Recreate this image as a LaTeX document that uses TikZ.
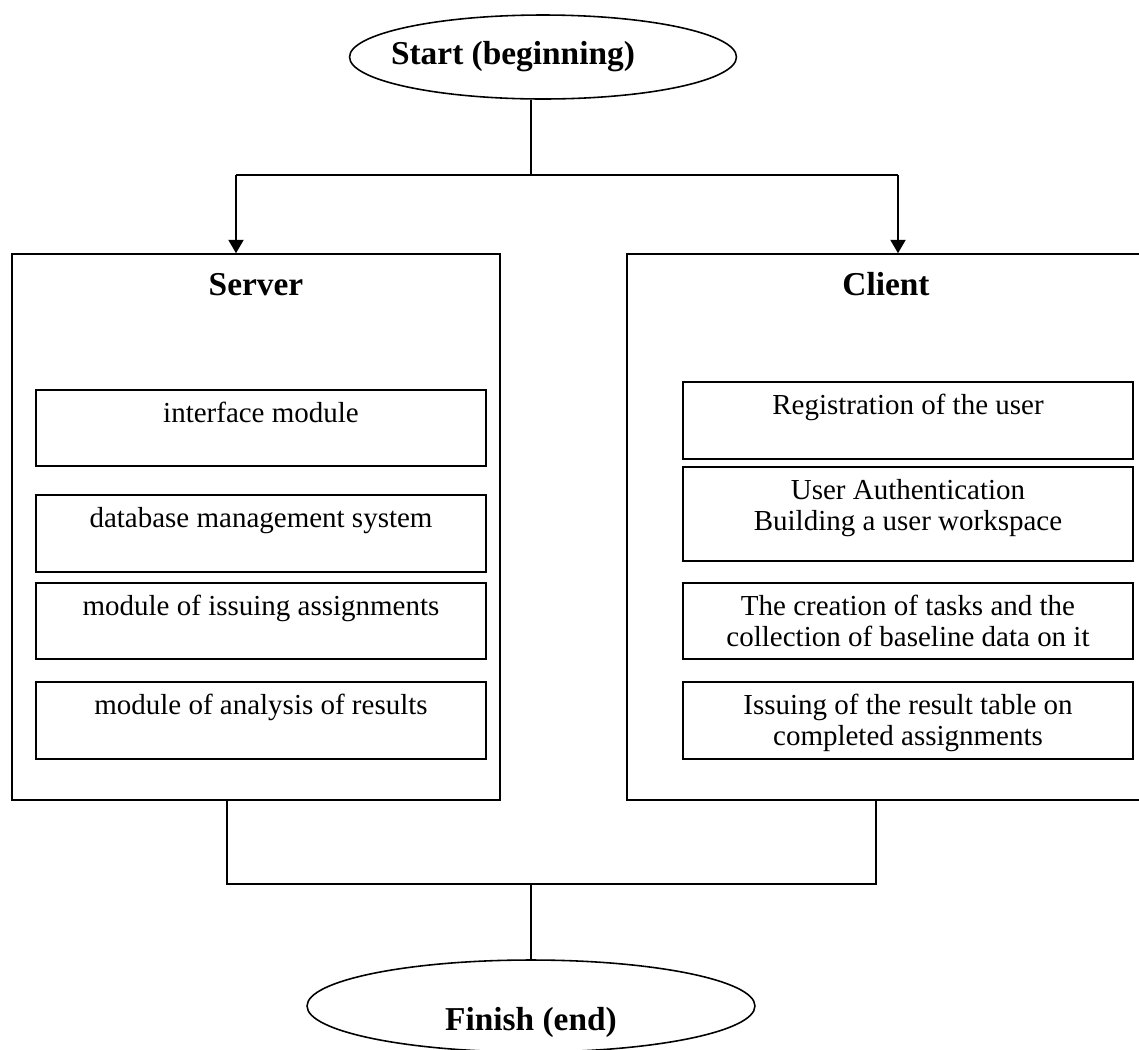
\documentclass[tikz,border=0pt]{standalone}
\usepackage{fontspec}
\setmainfont{Liberation Serif}
\usetikzlibrary{shapes.geometric,arrows.meta}

\newcommand{\boxtext}[3]{\parbox[c][#2][t]{#1}{\centering\strut #3}}

\tikzset{
	>={Triangle[length=0.27cm,width=0.3cm]},
	terminal/.style={draw, ellipse, line width=0.9pt, inner sep=0pt, font=\fontsize{19}{22}\selectfont\bfseries},
	unit/.style={draw, line width=0.9pt, inner xsep=0.2cm, inner ysep=0.28cm, font=\fontsize{19}{22}\selectfont\bfseries},
	module/.style={draw, line width=0.9pt, inner xsep=0.2cm, inner ysep=0.2cm, font=\fontsize{16.5}{18}\selectfont},
	link/.style={line width=0.8pt}
}

\begin{document}
\begin{tikzpicture}[x=0.02cm, y=-0.02cm]
	\useasboundingbox (0,0) rectangle (1139,1049);

	\node[terminal, minimum width=7.74cm, minimum height=1.68cm] (start) at (543,57) {\hspace*{-1.2cm}Start (beginning)};

	\node[unit] (server) at (256,527) {\boxtext{9.36cm}{10.36cm}{Server}};
	\node[unit] (client) at (886,527) {\boxtext{9.96cm}{10.36cm}{Client}};

	\node[module] (iface) at (261,428) {\boxtext{8.6cm}{1.12cm}{interface module}};
	\node[module] (dbms) at (261,533.5) {\boxtext{8.6cm}{1.14cm}{database management system}};
	\node[module] (issue) at (261,621) {\boxtext{8.6cm}{1.12cm}{module of issuing assignments}};
	\node[module] (analysis) at (261,720.5) {\boxtext{8.6cm}{1.14cm}{module of analysis of results}};

	\node[module] (reg) at (908,420.5) {\boxtext{8.6cm}{1.14cm}{Registration of the user}};
	\node[module] (auth) at (908,514) {\boxtext{8.6cm}{1.48cm}{User Authentication\\Building a user workspace}};
	\node[module] (tasks) at (908,621) {\boxtext{8.6cm}{1.12cm}{The creation of tasks and the\\collection of baseline data on it}};
	\node[module] (table) at (908,720.5) {\boxtext{8.6cm}{1.14cm}{Issuing of the result table on\\completed assignments}};

	\node[terminal, minimum width=8.96cm, minimum height=1.84cm, text height=1cm, text depth=0.02cm] (finish) at (531,1006) {Finish (end)};

	\coordinate (split) at (531,175);
	\coordinate (lsplit) at (236,175);
	\coordinate (rsplit) at (898,175);
	\coordinate (join) at (531,884);
	\coordinate (ljoin) at (227,884);
	\coordinate (rjoin) at (876,884);

	\draw[link] (split |- start.south) -- (split);
	\draw[link] (lsplit) -- (rsplit);
	\draw[line width=1.3pt, ->] (lsplit) -- (lsplit |- server.north);
	\draw[line width=1.3pt, ->] (rsplit) -- (rsplit |- client.north);

	\draw[link] (ljoin |- server.south) -- (ljoin) -- (rjoin) -- (rjoin |- client.south);
	\draw[link] (join) -- (finish.north);
\end{tikzpicture}
\end{document}
